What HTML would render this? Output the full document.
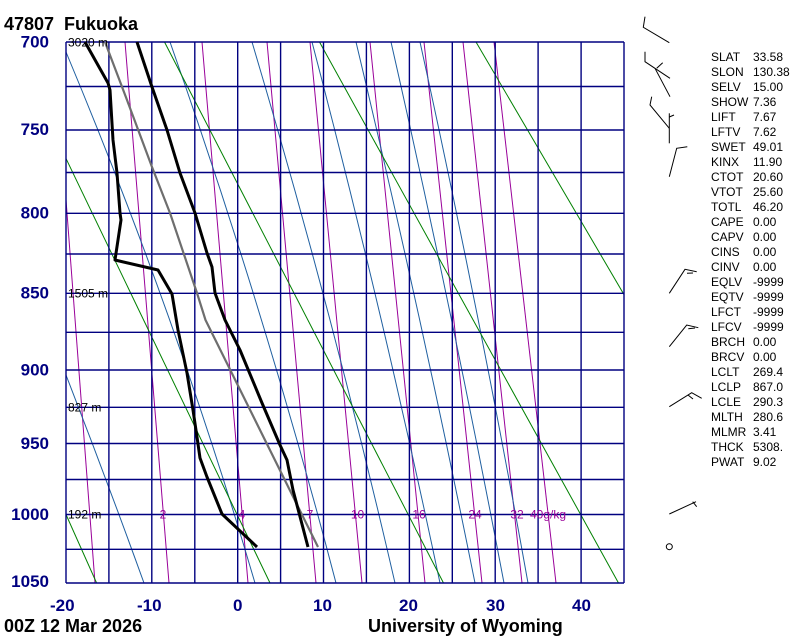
<!DOCTYPE html>
<html>
<head>
<meta charset="utf-8">
<style>
  html,body{margin:0;padding:0;background:#fff;}
  body{width:800px;height:640px;overflow:hidden;}
  svg{display:block;}
  text{font-family:"Liberation Sans", Arial, sans-serif;}
</style>
</head>
<body>
<svg width="800" height="640" viewBox="0 0 800 640" xmlns="http://www.w3.org/2000/svg">
  <defs>
    <clipPath id="c"><rect x="66" y="42" width="558" height="541"/></clipPath>
  </defs>
  <rect width="800" height="640" fill="#fff"/>

  <g clip-path="url(#c)" fill="none">
    <!-- mixing ratio lines -->
    <g stroke="#990099" stroke-width="1">
      <line x1="64.5" y1="180" x2="95" y2="583"/>
      <line x1="125" y1="42" x2="169" y2="583"/>
      <line x1="202" y1="42" x2="248" y2="583"/>
      <line x1="267" y1="42" x2="316" y2="583"/>
      <line x1="310" y1="42" x2="362" y2="583"/>
      <line x1="370" y1="42" x2="425" y2="583"/>
      <line x1="424" y1="42" x2="482" y2="583"/>
      <line x1="463" y1="42" x2="522" y2="583"/>
      <line x1="494" y1="42" x2="556" y2="583"/>
    </g>
    <!-- moist adiabats -->
    <g stroke="#1f5fa0" stroke-width="1">
      <path d="M60,352 L66,375 Q106.4,479 144,583"/>
      <path d="M62,42 L66,52 Q177.1,317.5 255,583"/>
      <path d="M170,42 Q265.4,312.5 336,583"/>
      <path d="M252,42 Q332.6,312.5 395,583"/>
      <path d="M312,42 Q383,312.5 440,583"/>
      <path d="M356,42 Q420.6,312.5 475,583"/>
      <path d="M391,42 Q452.5,312.5 504,583"/>
      <path d="M420,42 Q479.5,312.5 528,583"/>
    </g>
    <!-- dry adiabats -->
    <g stroke="#008000" stroke-width="1">
      <line x1="-145" y1="42" x2="96.6" y2="583"/>
      <line x1="10" y1="42" x2="270" y2="583"/>
      <line x1="164.5" y1="42" x2="443.5" y2="583"/>
      <line x1="319.5" y1="42" x2="618.5" y2="583"/>
      <line x1="476" y1="42" x2="793" y2="583"/>
    </g>
  </g>

  <!-- grid -->
  <g stroke="#000080" stroke-width="1.4" fill="none">
    <line x1="66" y1="42" x2="624" y2="42"/>
    <line x1="66" y1="86.5" x2="624" y2="86.5"/>
    <line x1="66" y1="130" x2="624" y2="130"/>
    <line x1="66" y1="172.5" x2="624" y2="172.5"/>
    <line x1="66" y1="213.3" x2="624" y2="213.3"/>
    <line x1="66" y1="254" x2="624" y2="254"/>
    <line x1="66" y1="293.3" x2="624" y2="293.3"/>
    <line x1="66" y1="332.3" x2="624" y2="332.3"/>
    <line x1="66" y1="370" x2="624" y2="370"/>
    <line x1="66" y1="407.3" x2="624" y2="407.3"/>
    <line x1="66" y1="443.5" x2="624" y2="443.5"/>
    <line x1="66" y1="479.5" x2="624" y2="479.5"/>
    <line x1="66" y1="514.5" x2="624" y2="514.5"/>
    <line x1="66" y1="549.3" x2="624" y2="549.3"/>
    <line x1="66" y1="583" x2="624" y2="583"/>

    <line x1="66" y1="42" x2="66" y2="583"/>
    <line x1="108.9" y1="42" x2="108.9" y2="583"/>
    <line x1="151.8" y1="42" x2="151.8" y2="583"/>
    <line x1="194.8" y1="42" x2="194.8" y2="583"/>
    <line x1="237.7" y1="42" x2="237.7" y2="583"/>
    <line x1="280.6" y1="42" x2="280.6" y2="583"/>
    <line x1="323.5" y1="42" x2="323.5" y2="583"/>
    <line x1="366.4" y1="42" x2="366.4" y2="583"/>
    <line x1="409.4" y1="42" x2="409.4" y2="583"/>
    <line x1="452.3" y1="42" x2="452.3" y2="583"/>
    <line x1="495.2" y1="42" x2="495.2" y2="583"/>
    <line x1="538.1" y1="42" x2="538.1" y2="583"/>
    <line x1="581.1" y1="42" x2="581.1" y2="583"/>
    <line x1="624" y1="42" x2="624" y2="583"/>
  </g>

  <!-- profiles -->
  <g fill="none" stroke-linejoin="round" stroke-linecap="butt">
    <polyline stroke="#6e6e6e" stroke-width="2.2"
      points="105,42 127,100 152,167 170,213 197,293 205.5,320 318,547"/>
    <polyline stroke="#000" stroke-width="3"
      points="137,42 152,87 167,130 180,173 195,213 207,253 212,267 215,293 225,320 240,350 262,403 280,445 287,460 293,490 308,547"/>
    <polyline stroke="#000" stroke-width="3"
      points="85,42 108,83 110,90 113,140 117,173 120,213 121,220 118,240 115,260 158,270 172,294 178,330 187,373 193,410 197,437 200,458 207,477 222,514 257,547"/>
  </g>

  <!-- height labels -->
  <g font-size="12" fill="#000">
    <text x="68" y="46.5">3020 m</text>
    <text x="68" y="297.5">1505 m</text>
    <text x="68" y="411.5">827 m</text>
    <text x="68" y="518.5">192 m</text>
  </g>

  <!-- mixing ratio labels -->
  <g font-size="12" fill="#990099" text-anchor="middle">
    <text x="163" y="518.5">2</text>
    <text x="242" y="518.5">4</text>
    <text x="310" y="518.5">7</text>
    <text x="357.5" y="518.5">10</text>
    <text x="419" y="518.5">16</text>
    <text x="475" y="518.5">24</text>
    <text x="517" y="518.5">32</text>
    <text x="530" y="518.5" text-anchor="start">40g/kg</text>
  </g>

  <!-- title -->
  <g font-size="18" font-weight="bold" fill="#000">
    <text x="4" y="30">47807</text>
    <text x="64" y="30">Fukuoka</text>
    <text x="4" y="632">00Z 12 Mar 2026</text>
    <text x="368" y="632">University of Wyoming</text>
  </g>

  <!-- pressure labels -->
  <g font-size="17" font-weight="bold" fill="#000080" text-anchor="end">
    <text x="49" y="47.5">700</text>
    <text x="49" y="135">750</text>
    <text x="49" y="218.5">800</text>
    <text x="49" y="298.5">850</text>
    <text x="49" y="375.5">900</text>
    <text x="49" y="449">950</text>
    <text x="49" y="520">1000</text>
    <text x="49" y="587">1050</text>
  </g>

  <!-- temperature labels -->
  <g font-size="17" font-weight="bold" fill="#000080">
    <text x="50" y="611">-20</text>
    <text x="137" y="611">-10</text>
    <text x="233" y="611">0</text>
    <text x="313" y="611">10</text>
    <text x="399" y="611">20</text>
    <text x="486" y="611">30</text>
    <text x="572" y="611">40</text>
  </g>

  <!-- wind barbs -->
  <g stroke="#000" stroke-width="1" fill="none">
    <polyline points="669.3,42.7 643.3,27.3 645,16.7"/>
    <polyline points="645,51.7 645,61.7 670,78.3"/>
    <line x1="655" y1="68.3" x2="670" y2="96.7"/>
    <line x1="656.7" y1="68.3" x2="662.7" y2="62.7"/>
    <polyline points="651.7,96.7 650,105 669.3,128.3"/>
    <line x1="669.3" y1="113.3" x2="669.3" y2="143.3"/>
    <line x1="669.3" y1="117" x2="674" y2="115"/>
    <polyline points="669.3,176.7 676.7,148.3 687.3,146.7"/>
    <polyline points="669.3,293.3 685,269.3 696.7,271.7"/>
    <line x1="687" y1="273.3" x2="693" y2="273"/>
    <polyline points="669.3,346.7 686.7,325 698.3,327.7"/>
    <line x1="688.3" y1="328.7" x2="695" y2="328"/>
    <polyline points="669.3,406.7 691.7,392.7 701.7,398.3"/>
    <line x1="688" y1="395" x2="693" y2="399"/>
    <line x1="669.3" y1="514" x2="696" y2="501.7"/>
    <line x1="692.7" y1="501.7" x2="696.7" y2="506.7"/>
    <circle cx="669.3" cy="546.7" r="3"/>
  </g>

  <!-- indices -->
  <g font-size="12" fill="#000">
    <text x="711" y="61">SLAT</text><text x="753" y="61">33.58</text>
    <text x="711" y="76">SLON</text><text x="753" y="76">130.38</text>
    <text x="711" y="91">SELV</text><text x="753" y="91">15.00</text>
    <text x="711" y="106">SHOW</text><text x="753" y="106">7.36</text>
    <text x="711" y="121">LIFT</text><text x="753" y="121">7.67</text>
    <text x="711" y="136">LFTV</text><text x="753" y="136">7.62</text>
    <text x="711" y="151">SWET</text><text x="753" y="151">49.01</text>
    <text x="711" y="166">KINX</text><text x="753" y="166">11.90</text>
    <text x="711" y="181">CTOT</text><text x="753" y="181">20.60</text>
    <text x="711" y="196">VTOT</text><text x="753" y="196">25.60</text>
    <text x="711" y="211">TOTL</text><text x="753" y="211">46.20</text>
    <text x="711" y="226">CAPE</text><text x="753" y="226">0.00</text>
    <text x="711" y="241">CAPV</text><text x="753" y="241">0.00</text>
    <text x="711" y="256">CINS</text><text x="753" y="256">0.00</text>
    <text x="711" y="271">CINV</text><text x="753" y="271">0.00</text>
    <text x="711" y="286">EQLV</text><text x="753" y="286">-9999</text>
    <text x="711" y="301">EQTV</text><text x="753" y="301">-9999</text>
    <text x="711" y="316">LFCT</text><text x="753" y="316">-9999</text>
    <text x="711" y="331">LFCV</text><text x="753" y="331">-9999</text>
    <text x="711" y="346">BRCH</text><text x="753" y="346">0.00</text>
    <text x="711" y="361">BRCV</text><text x="753" y="361">0.00</text>
    <text x="711" y="376">LCLT</text><text x="753" y="376">269.4</text>
    <text x="711" y="391">LCLP</text><text x="753" y="391">867.0</text>
    <text x="711" y="406">LCLE</text><text x="753" y="406">290.3</text>
    <text x="711" y="421">MLTH</text><text x="753" y="421">280.6</text>
    <text x="711" y="436">MLMR</text><text x="753" y="436">3.41</text>
    <text x="711" y="451">THCK</text><text x="753" y="451">5308.</text>
    <text x="711" y="466">PWAT</text><text x="753" y="466">9.02</text>
  </g>
</svg>
</body>
</html>
